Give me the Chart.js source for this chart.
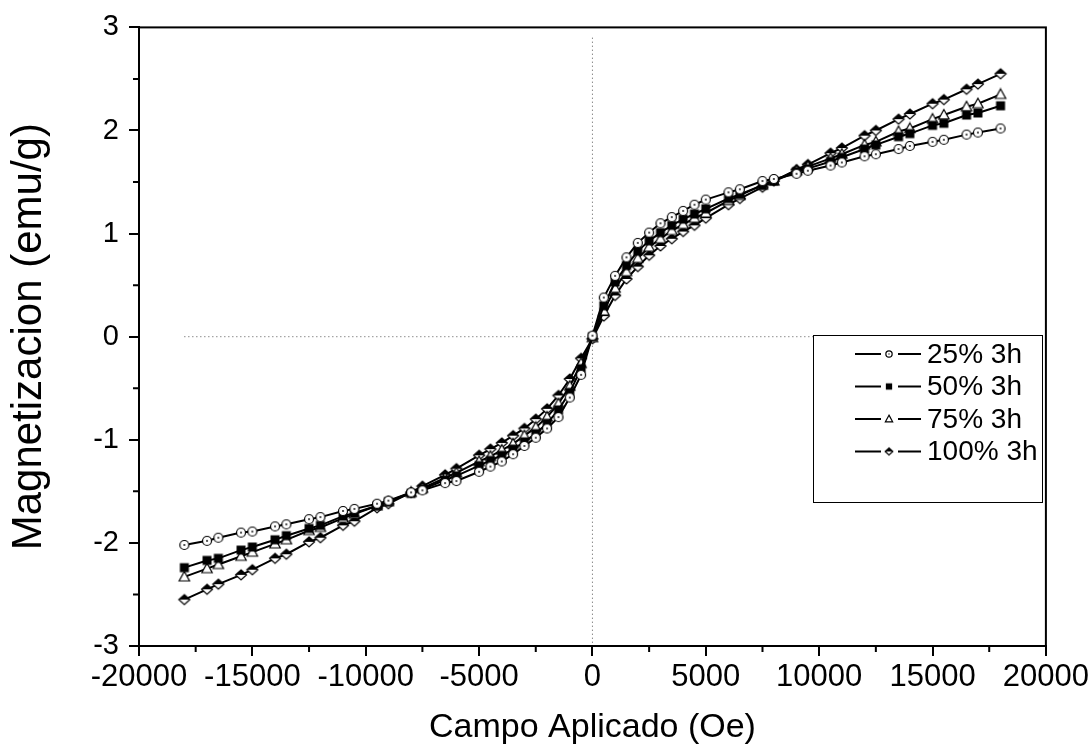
<!DOCTYPE html>
<html>
<head>
<meta charset="utf-8">
<script src="https://cdn.jsdelivr.net/npm/chart.js@4.4.0/dist/chart.umd.min.js"></script>
<style>
  html, body { margin: 0; padding: 0; background: #fff; }
</style>
</head>
<body>
<canvas id="chart" width="1092" height="752"></canvas>
<script>
// applied field (Oe), shared by all samples
const fieldOe = [-18000, -17000, -16500, -15500, -15000, -14000, -13500, -12500, -12000, -11000, -10500, -9500, -9000,
  -8000, -7500, -6500, -6000, -5000, -4500, -4000, -3500, -3000, -2500, -2000, -1500, -1000, -500, 0,
  500, 1000, 1500, 2000, 2500, 3000, 3500, 4000, 4500, 5000, 6000, 6500, 7500, 8000, 9000, 9500,
  10500, 11000, 12000, 12500, 13500, 14000, 15000, 15500, 16500, 17000, 18000];

// magnetization (emu/g)
const mag25 = [-2.02, -1.98, -1.95, -1.90, -1.89, -1.84, -1.82, -1.77, -1.75, -1.69, -1.67, -1.62, -1.59,
  -1.51, -1.49, -1.42, -1.40, -1.31, -1.26, -1.21, -1.14, -1.06, -0.98, -0.89, -0.78, -0.59, -0.37, 0.01,
  0.38, 0.59, 0.77, 0.91, 1.01, 1.10, 1.16, 1.22, 1.28, 1.33, 1.40, 1.43, 1.51, 1.53, 1.58, 1.61,
  1.66, 1.69, 1.75, 1.77, 1.82, 1.85, 1.89, 1.91, 1.96, 1.98, 2.02];
const mag50 = [-2.24, -2.17, -2.15, -2.07, -2.04, -1.97, -1.93, -1.86, -1.83, -1.74, -1.71, -1.64, -1.60,
  -1.52, -1.48, -1.39, -1.35, -1.25, -1.20, -1.15, -1.09, -1.02, -0.94, -0.84, -0.71, -0.54, -0.31, 0.00,
  0.30, 0.53, 0.69, 0.83, 0.93, 1.01, 1.08, 1.14, 1.19, 1.24, 1.34, 1.38, 1.47, 1.51, 1.60, 1.63,
  1.70, 1.74, 1.82, 1.86, 1.94, 1.97, 2.05, 2.07, 2.15, 2.17, 2.24];
const mag75 = [-2.33, -2.25, -2.21, -2.13, -2.09, -2.01, -1.97, -1.88, -1.85, -1.76, -1.72, -1.64, -1.60,
  -1.51, -1.47, -1.37, -1.32, -1.21, -1.16, -1.10, -1.04, -0.96, -0.88, -0.78, -0.65, -0.48, -0.26, -0.01,
  0.25, 0.47, 0.63, 0.76, 0.87, 0.95, 1.03, 1.09, 1.15, 1.20, 1.32, 1.37, 1.47, 1.51, 1.61, 1.65,
  1.73, 1.77, 1.86, 1.89, 1.99, 2.02, 2.11, 2.15, 2.23, 2.26, 2.35];
const mag100 = [-2.55, -2.45, -2.40, -2.31, -2.26, -2.15, -2.11, -1.99, -1.95, -1.83, -1.79, -1.66, -1.62,
  -1.51, -1.45, -1.34, -1.28, -1.15, -1.09, -1.03, -0.96, -0.89, -0.80, -0.70, -0.57, -0.41, -0.21, -0.02,
  0.20, 0.40, 0.56, 0.68, 0.79, 0.88, 0.95, 1.02, 1.08, 1.15, 1.28, 1.34, 1.45, 1.51, 1.62, 1.67,
  1.78, 1.83, 1.95, 2.00, 2.11, 2.16, 2.26, 2.30, 2.40, 2.45, 2.55];

const seriesNames = ['25% 3h', '50% 3h', '75% 3h', '100% 3h'];

// dotted guide lines through the origin
const guideX = [-18000, 18000];
const guideY = [2.9, -3];

// markers drawn once on small canvases and used as point styles
function makeMarker(kind, s) {
    const c = document.createElement('canvas');
    c.width = 14; c.height = 14;
    const g = c.getContext('2d');
    g.translate(7, 7);
    g.scale(s, s);
    g.lineWidth = 1.2 / s;
    g.strokeStyle = '#000';
    if (kind === 'circle') {
        g.beginPath(); g.arc(0, 0, 4.5, 0, Math.PI * 2);
        g.fillStyle = '#fff'; g.fill(); g.stroke();
        g.beginPath(); g.arc(0, 0, 0.9, 0, Math.PI * 2);
        g.fillStyle = '#000'; g.fill();
    } else if (kind === 'square') {
        g.fillStyle = '#000';
        g.fillRect(-4.5, -4.5, 9, 9);
    } else if (kind === 'triangle') {
        g.beginPath(); g.moveTo(0, -5.5); g.lineTo(5.2, 4); g.lineTo(-5.2, 4); g.closePath();
        g.fillStyle = '#fff'; g.fill(); g.stroke();
    } else {
        const d = () => { g.beginPath(); g.moveTo(0, -5); g.lineTo(5.5, 0); g.lineTo(0, 5); g.lineTo(-5.5, 0); g.closePath(); };
        d(); g.fillStyle = '#fff'; g.fill();
        g.beginPath(); g.moveTo(0, -5); g.lineTo(5.5, 0); g.lineTo(-5.5, 0); g.closePath();
        g.fillStyle = '#000'; g.fill();
        d(); g.stroke();
    }
    return c;
}
const kinds = ['circle', 'square', 'triangle', 'diamond'];
const markers = kinds.map(k => makeMarker(k, 1));
const legendMarkers = kinds.map(k => makeMarker(k, 0.7));

function toPoints(ys) {
    return fieldOe.map((x, i) => ({ x: x, y: ys[i] }));
}

const seriesData = [mag25, mag50, mag75, mag100];
const datasets = seriesData.map((ys, i) => ({
    label: seriesNames[i],
    data: toPoints(ys),
    borderColor: '#000',
    borderWidth: 2,
    pointStyle: markers[i],
    pointRadius: 4,
    fill: false,
    tension: 0
}));
datasets.push({
    label: 'h0',
    data: guideX.map(x => ({ x: x, y: 0 })),
    borderColor: '#555', borderWidth: 1, borderDash: [1, 3], pointRadius: 0, fill: false, order: 10
});
datasets.push({
    label: 'v0',
    data: guideY.map(y => ({ x: 0, y: y })),
    borderColor: '#555', borderWidth: 1, borderDash: [1, 3], pointRadius: 0, fill: false, order: 10
});

// box round the plot plus minor ticks
const framePlugin = {
    id: 'frame',
    afterDatasetsDraw(chart) {
        const { ctx, chartArea: a, scales } = chart;
        ctx.save();
        ctx.strokeStyle = '#000';
        ctx.lineWidth = 2;
        ctx.strokeRect(a.left, a.top, a.right - a.left, a.bottom - a.top);
        ctx.beginPath();
        for (let v = -17500; v <= 17500; v += 5000) {
            const px = scales.x.getPixelForValue(v);
            ctx.moveTo(px, a.bottom); ctx.lineTo(px, a.bottom + 6);
        }
        for (let v = -2.5; v <= 2.5; v += 1) {
            const py = scales.y.getPixelForValue(v);
            ctx.moveTo(a.left, py); ctx.lineTo(a.left - 6, py);
        }
        ctx.stroke();
        ctx.restore();
    }
};

// legend in the style "—o— 25% 3h"
const legendPlugin = {
    id: 'boxLegend',
    afterDatasetsDraw(chart) {
        const ctx = chart.ctx;
        const left = 813, top = 335, w = 229, h = 167;
        ctx.save();
        ctx.fillStyle = '#fff';
        ctx.fillRect(left, top, w, h);
        ctx.strokeStyle = '#000';
        ctx.lineWidth = 1;
        ctx.strokeRect(left + 0.5, top + 0.5, w, h);
        ctx.font = '28px "Liberation Sans", Arial, sans-serif';
        ctx.textBaseline = 'middle';
        ctx.fillStyle = '#000';
        seriesNames.forEach((name, i) => {
            const y = 354 + i * 32.5;
            ctx.lineWidth = 2;
            ctx.beginPath();
            ctx.moveTo(855, y); ctx.lineTo(881, y);
            ctx.moveTo(898, y); ctx.lineTo(921, y);
            ctx.stroke();
            ctx.drawImage(legendMarkers[i], 889 - 7, y - 7);
            ctx.fillText(name, 927, y + 1);
        });
        ctx.restore();
    }
};

const fontFamily = '"Liberation Sans", Arial, sans-serif';

new Chart(document.getElementById('chart').getContext('2d'), {
    type: 'line',
    data: { datasets: datasets },
    options: {
        responsive: false,
        animation: false,
        devicePixelRatio: 1,
        layout: { padding: { left: 0, right: 44, top: 23, bottom: 0 } },
        scales: {
            x: {
                type: 'linear',
                min: -20000, max: 20000,
                ticks: { stepSize: 5000, color: '#000', font: { family: fontFamily, size: 31 }, padding: 3, maxRotation: 0, callback: v => String(v) },
                grid: { drawOnChartArea: false, color: '#000', lineWidth: 2, tickLength: 10 },
                border: { color: '#000', width: 2 },
                title: { display: true, text: 'Campo Aplicado (Oe)', color: '#000', font: { family: fontFamily, size: 34 }, padding: { top: 0, bottom: 4 } },
                afterFit: s => { s.height = 106; }
            },
            y: {
                type: 'linear',
                min: -3, max: 3,
                ticks: { stepSize: 1, color: '#000', font: { family: fontFamily, size: 29 }, padding: 10, callback: v => String(v) },
                grid: { drawOnChartArea: false, color: '#000', lineWidth: 2, tickLength: 10 },
                border: { color: '#000', width: 2 },
                title: { display: true, text: 'Magnetizacion (emu/g)', color: '#000', font: { family: fontFamily, size: 42 }, padding: { top: 4, bottom: 0 } },
                afterFit: s => { s.width = 139; }
            }
        },
        plugins: {
            legend: { display: false },
            tooltip: { enabled: false }
        }
    },
    plugins: [framePlugin, legendPlugin]
});
</script>
</body>
</html>
